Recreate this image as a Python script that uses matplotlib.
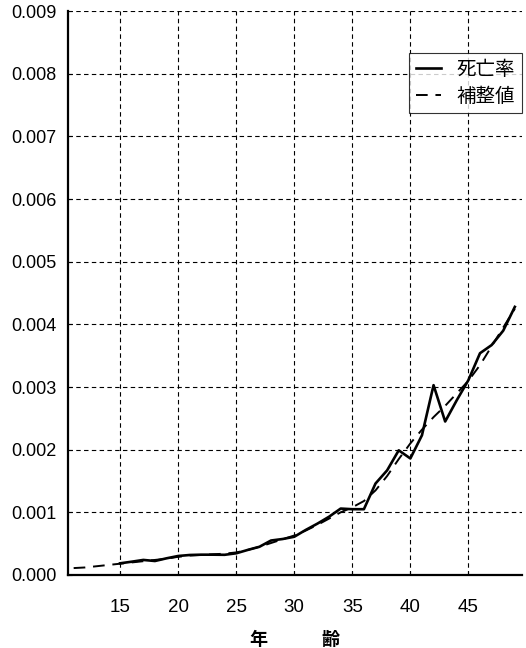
import matplotlib
matplotlib.use("Agg")
import matplotlib.pyplot as plt

plt.rcParams['font.family'] = ['Liberation Sans', 'Noto Sans CJK JP', 'DejaVu Sans']

# ages and rates
ages_obs = list(range(15, 50))
rate_obs = [0.000186, 0.000212, 0.000240, 0.000223, 0.000266, 0.000303, 0.000319,
            0.000324, 0.000324, 0.000322, 0.000346, 0.000400, 0.000450, 0.000550,
            0.000574, 0.000610, 0.000720, 0.000820, 0.000930, 0.001060, 0.001050,
            0.001050, 0.001460, 0.001670, 0.001990, 0.001860, 0.002230, 0.003030,
            0.002450, 0.002790, 0.003110, 0.003540, 0.003670, 0.003900, 0.004280]

ages_fit = list(range(11, 50))
rate_fit = [0.00011, 0.00012, 0.00014, 0.00016, 0.00018, 0.00020, 0.00022, 0.00024,
            0.00026, 0.00029, 0.00031, 0.00032, 0.00033, 0.00034, 0.00036, 0.00040,
            0.00045, 0.00051, 0.00057, 0.00063, 0.00071, 0.00080, 0.00090, 0.00100,
            0.00108, 0.00118, 0.00135, 0.00158, 0.00185, 0.00210, 0.00232, 0.00252,
            0.00270, 0.00290, 0.00310, 0.00335, 0.00365, 0.00395, 0.00425]

x_ticks = [15, 20, 25, 30, 35, 40, 45]
y_ticks = [0.000, 0.001, 0.002, 0.003, 0.004, 0.005, 0.006, 0.007, 0.008, 0.009]

fig = plt.figure(figsize=(5.26, 6.48), dpi=100)
ax = fig.add_axes([0.129, 0.1127, 0.863, 0.870])

ax.plot(ages_obs, rate_obs, color='black', lw=1.9, label='死亡率')
ax.plot(ages_fit, rate_fit, color='black', lw=1.4, dashes=(6, 4), label='補整値')

ax.set_xlim(10.5, 49.6)
ax.set_ylim(0, 0.009)
ax.set_xticks(x_ticks)
ax.set_yticks(y_ticks)
ax.set_yticklabels([f"{v:.3f}" for v in y_ticks], fontsize=13)
ax.set_xticklabels([str(v) for v in x_ticks], fontsize=13.5)
ax.tick_params(axis='y', length=3, direction='in', pad=8)
ax.tick_params(axis='x', length=3, direction='in', pad=17)

ax.grid(True, color='black', lw=0.8, linestyle=(0, (4, 3)))
ax.spines['top'].set_visible(False)
ax.spines['right'].set_visible(False)
ax.spines['left'].set_linewidth(1.6)
ax.spines['bottom'].set_linewidth(1.6)

ax.set_xlabel('年　　　齢', fontsize=13, fontweight='bold', labelpad=12)

leg = ax.legend(loc='upper right', bbox_to_anchor=(1.0, 0.925), borderaxespad=0,
                fontsize=14, handlelength=1.3, frameon=True, fancybox=False,
                borderpad=0.35, labelspacing=0.45, handletextpad=0.8)
leg.get_frame().set_edgecolor('black')
leg.get_frame().set_linewidth(0.8)

fig.savefig('out.png', dpi=100)
